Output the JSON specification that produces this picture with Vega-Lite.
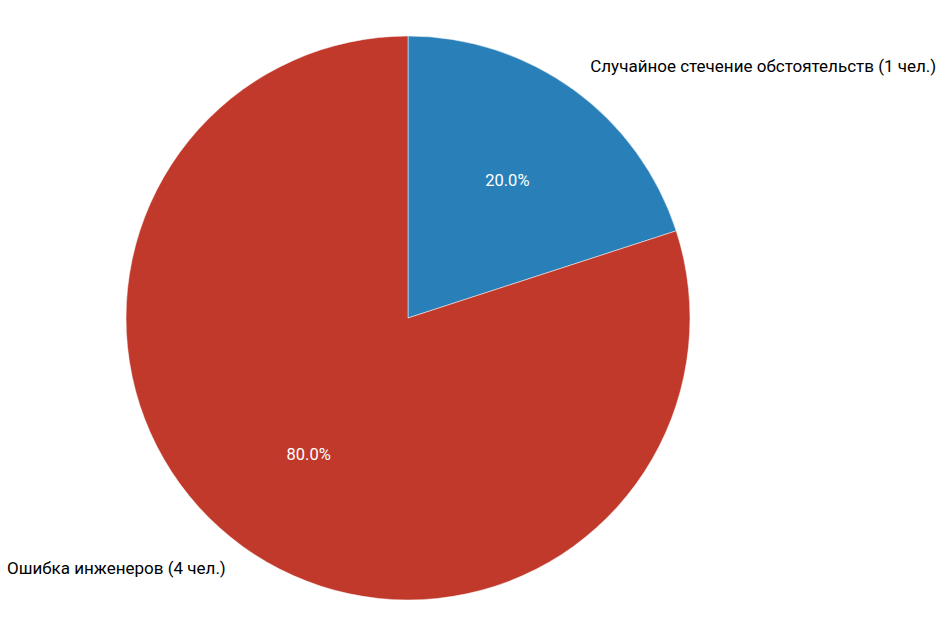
{
  "$schema": "https://vega.github.io/schema/vega-lite/v6.json",
  "width": 816,
  "height": 636,
  "autosize": {"type": "none"},
  "padding": {"left": 0, "top": 0, "right": 127, "bottom": 0},
  "background": "white",
  "view": {"stroke": null},
  "config": {"font": "Roboto"},
  "data": {
    "values": [
      {"cause": "Случайное стечение обстоятельств (1 чел.)", "count": 1, "pct": "20.0%", "ord": 1},
      {"cause": "Ошибка инженеров (4 чел.)", "count": 4, "pct": "80.0%", "ord": 2}
    ]
  },
  "encoding": {
    "theta": {"field": "count", "type": "quantitative", "stack": true},
    "order": {"field": "ord", "type": "quantitative"}
  },
  "layer": [
    {
      "mark": {"type": "arc", "outerRadius": 282, "stroke": "white", "strokeWidth": 0.5},
      "encoding": {
        "color": {
          "field": "cause",
          "type": "nominal",
          "scale": {
            "domain": ["Случайное стечение обстоятельств (1 чел.)", "Ошибка инженеров (4 чел.)"],
            "range": ["#2980b9", "#c0392b"]
          },
          "legend": null
        }
      }
    },
    {
      "mark": {"type": "text", "radius": 169, "fontSize": 16.5, "color": "white"},
      "encoding": {"text": {"field": "pct", "type": "nominal"}}
    },
    {
      "mark": {"type": "text", "radius": 310, "fontSize": 17, "color": "black", "align": "left"},
      "encoding": {
        "text": {
          "condition": {"test": "datum.ord == 1", "field": "cause", "type": "nominal"},
          "value": ""
        }
      }
    },
    {
      "mark": {"type": "text", "radius": 310, "fontSize": 17, "color": "black", "align": "right"},
      "encoding": {
        "text": {
          "condition": {"test": "datum.ord == 2", "field": "cause", "type": "nominal"},
          "value": ""
        }
      }
    }
  ]
}
